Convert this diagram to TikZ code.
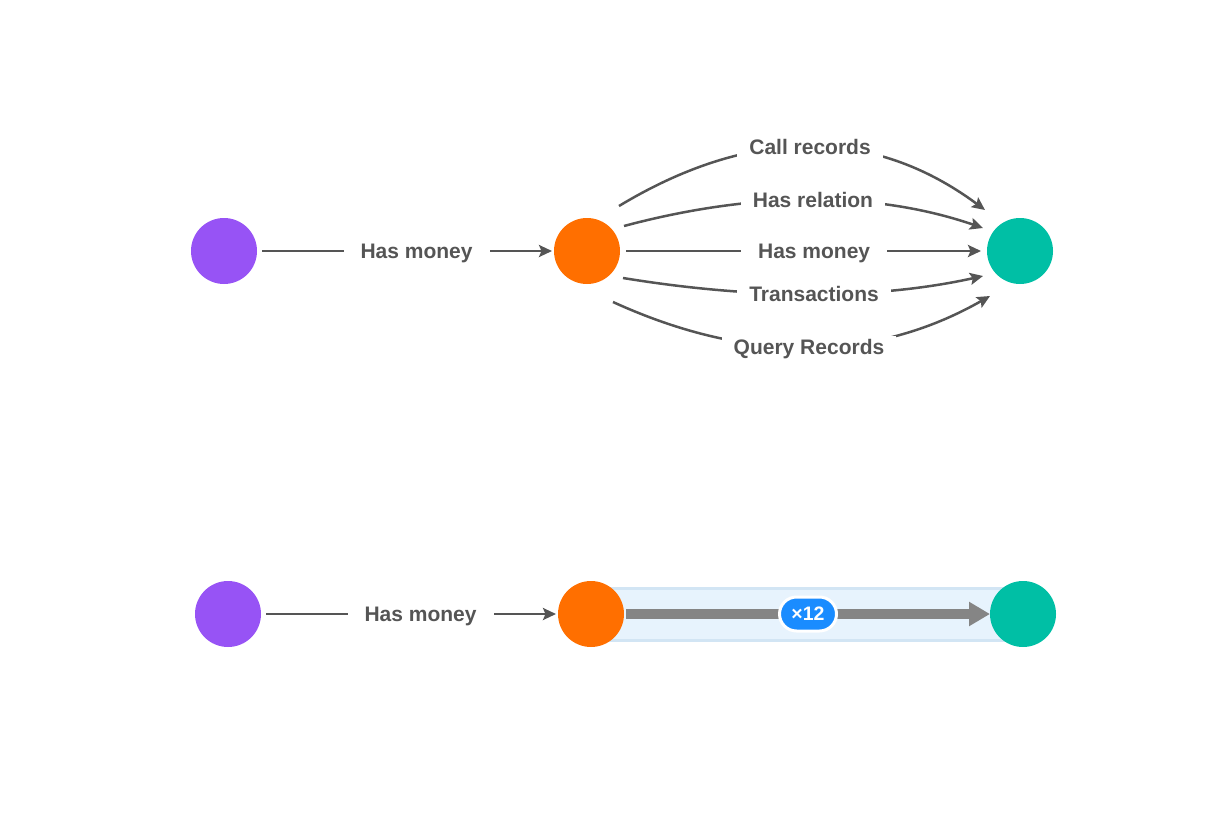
\documentclass[tikz,border=0pt]{standalone}
\usepackage{fontspec}
\setmainfont{Liberation Sans}
\usetikzlibrary{arrows.meta,calc,shapes.misc,backgrounds}
\definecolor{edgegray}{HTML}{555555}
\definecolor{purplenode}{HTML}{9753F5}
\definecolor{orangenode}{HTML}{FF6F00}
\definecolor{tealnode}{HTML}{00BFA5}
\definecolor{bandfill}{HTML}{E7F3FD}
\definecolor{bandline}{HTML}{D2E5F4}
\definecolor{biggray}{HTML}{858585}
\definecolor{badgeblue}{HTML}{1A8CFF}
\begin{document}
\begin{tikzpicture}[x=1pt,y=1pt,
  vertex/.style={circle,minimum size=66pt,inner sep=0pt,outer sep=0pt},
  rel/.style={draw=edgegray,line width=2.5pt,-{Stealth[length=13pt,width=12pt,inset=2.5pt]}},
  lbl/.style={fill=white,text=edgegray,font=\bfseries\fontsize{21}{24}\selectfont,inner xsep=12pt,inner ysep=4pt,text height=15pt,text depth=0pt},
  bigarrow/.style={draw=biggray,line width=10pt,-{Triangle[length=21pt,width=23pt]}},
  badge/.style={rounded rectangle,fill=badgeblue,draw=white,line width=3pt,minimum width=57pt,minimum height=34pt,inner sep=0pt,text=white,font=\bfseries\fontsize{19.5}{22}\selectfont},
  bandedge/.style={draw=bandline,line width=3pt}
]
\useasboundingbox (0,-832) rectangle (1228,0);

% top row nodes
\node[vertex,fill=purplenode] (p1) at (224,-251) {};
\node[vertex,fill=orangenode] (o1) at (587,-251) {};
\node[vertex,fill=tealnode] (t1) at (1020,-251) {};

% bottom row nodes
\node[vertex,fill=purplenode] (p2) at (228,-614) {};
\node[vertex,fill=orangenode] (o2) at (591,-614) {};
\node[vertex,fill=tealnode] (t2) at (1023,-614) {};

% top row edges
\draw[rel] ($(p1)+(38,0)$) -- node[lbl,pos=0.533,inner xsep=17pt] (l1) {Has money} ($(o1)+(-35,0)$);

\draw[rel] ($(o1)+(32,45)$) .. controls (751.7,-126) and (873.7,-127.3) ..
  node[lbl,pos=0.5] (l2) {Call records} ($(t1)+(-35,41)$);
\draw[rel] ($(o1)+(37,25)$) .. controls (756.3,-190.7) and (876,-191.3) ..
  node[lbl,pos=0.5] (l3) {Has relation} ($(t1)+(-37,23)$);
\draw[rel] ($(o1)+(39,0)$) -- node[lbl,pos=0.53,inner xsep=17pt] (l4) {Has money} ($(t1)+(-39,0)$);
\draw[rel] ($(o1)+(36,-27)$) .. controls (757.7,-300) and (877.7,-299.3) ..
  node[lbl,pos=0.5] (l5) {Transactions} ($(t1)+(-37,-25)$);
\draw[rel] ($(o1)+(26,-51)$) .. controls (748.7,-364) and (874.3,-362) ..
  node[lbl,pos=0.5] (l6) {Query Records} ($(t1)+(-30,-45)$);

% bottom row
\draw[rel] ($(p2)+(38,0)$) -- node[lbl,pos=0.533,inner xsep=17pt] (l7) {Has money} ($(o2)+(-35,0)$);

\begin{scope}[on background layer]
  \fill[bandfill] ($(o2)+(0,27.5)$) rectangle ($(t2)+(0,-27.5)$);
  \draw[bandedge] ($(o2)+(0,26)$) -- ($(t2)+(0,26)$);
  \draw[bandedge] ($(o2)+(0,-26)$) -- ($(t2)+(0,-26)$);
\end{scope}

\draw[bigarrow] ($(o2)+(35,0)$) -- node[badge,pos=0.5] (b) {×12} ($(t2)+(-33,0)$);
\end{tikzpicture}
\end{document}
